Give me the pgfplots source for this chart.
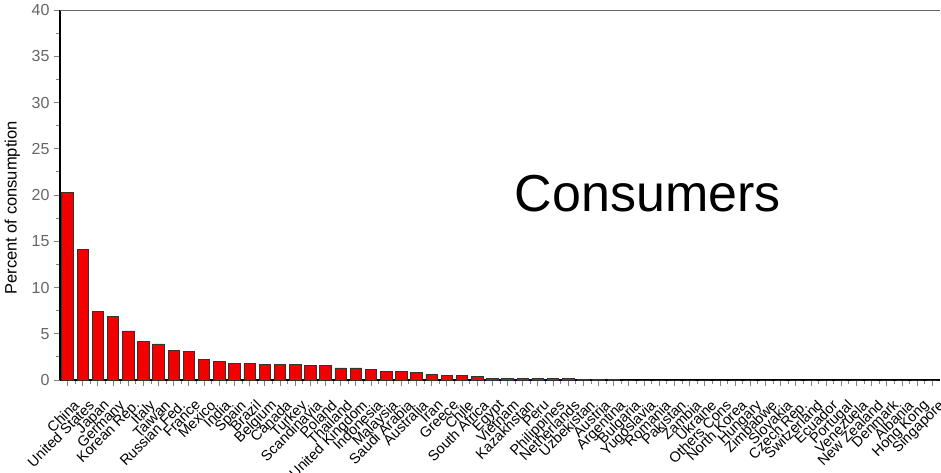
\documentclass[border=0pt]{standalone}
\usepackage{fontspec}
\setmainfont{Liberation Sans}
\usepackage{pgfplots}
\pgfplotsset{compat=1.18}
\definecolor{barred}{HTML}{F20000}
\begin{document}
\begin{tikzpicture}
\useasboundingbox (-60pt,-92pt) rectangle (881pt,380pt);
\begin{axis}[
  scale only axis,
  width=880pt, height=370pt,
  xmin=-0.5, xmax=57.5,
  ymin=0, ymax=40,
  axis x line*=bottom, axis y line*=left,
  axis line style={black, line width=1.3pt},
  ytick={0,5,...,40},
  minor y tick num=1,
  xtick={0,...,57},
  minor x tick num=1,
  tick align=outside,
  major tick length=6pt, minor tick length=3.5pt,
  x tick style={line width=1pt},
  y tick style={line width=1pt},
  /pgf/number format/assume math mode=true,
  yticklabel style={font=\fontsize{16}{16}\selectfont, color=black!60, xshift=-1pt},
  xticklabel style={font=\fontsize{14.5}{14.5}\selectfont, rotate=45, anchor=north east, inner sep=0.5pt, xshift=-5pt, yshift=-12pt},
  xticklabels={China, United States, Japan, Germany, Korean Rep., Italy, Taiwan, Russian Fed., France, Mexico, India, Spain, Brazil, Belgium, Canada, Turkey, Scandinavia, Poland, Thailand, United Kingdom, Indonesia, Malaysia, Saudi Arabia, Australia, Iran, Greece, Chile, South Africa, Egypt, Vietnam, Kazakhstan, Peru, Philippines, Netherlands, Uzbekistan, Austria, Argentina, Bulgaria, Yugoslavia, Romania, Pakistan, Zambia, Ukraine, Others Cons, North Korea, Hungary, Zimbabwe, Slovakia, Czech Rep., Switzerland, Ecuador, Portugal, Venezuela, New Zealand, Denmark, Albania, Hong Kong, Singapore},
  ylabel={Percent of consumption},
  ylabel style={font=\fontsize{16.5}{16.5}\selectfont, at={(axis description cs:-0.054,0.465)}, anchor=center},
  clip=false,
]
\addplot[ybar, bar width=11.5pt, fill=barred, draw=black!80, line width=0.8pt] coordinates {
(0,20.3) (1,14.1) (2,7.45) (3,6.85) (4,5.3) (5,4.2) (6,3.9) (7,3.2) (8,3.1) (9,2.2)
(10,2.05) (11,1.8) (12,1.8) (13,1.73) (14,1.7) (15,1.7) (16,1.6) (17,1.6) (18,1.3) (19,1.3)
(20,1.1) (21,0.97) (22,0.97) (23,0.86) (24,0.61) (25,0.47) (26,0.47) (27,0.36) (28,0.14) (29,0.14)
(30,0.14) (31,0.14) (32,0.14) (33,0.14) (34,0.08) (35,0.08) (36,0.08) (37,0) (38,0) (39,0)
(40,0) (41,0) (42,0) (43,0) (44,0) (45,0) (46,0) (47,0) (48,0) (49,0)
(50,0) (51,0) (52,0) (53,0) (54,0) (55,0) (56,0) (57,0)
};
\draw[black!60, line width=0.8pt] (rel axis cs:0,1) -- (rel axis cs:1,1);
\node[font=\fontsize{52}{56}\selectfont, anchor=center] at (rel axis cs:0.668,0.505) {Consumers};
\end{axis}
\end{tikzpicture}
\end{document}
